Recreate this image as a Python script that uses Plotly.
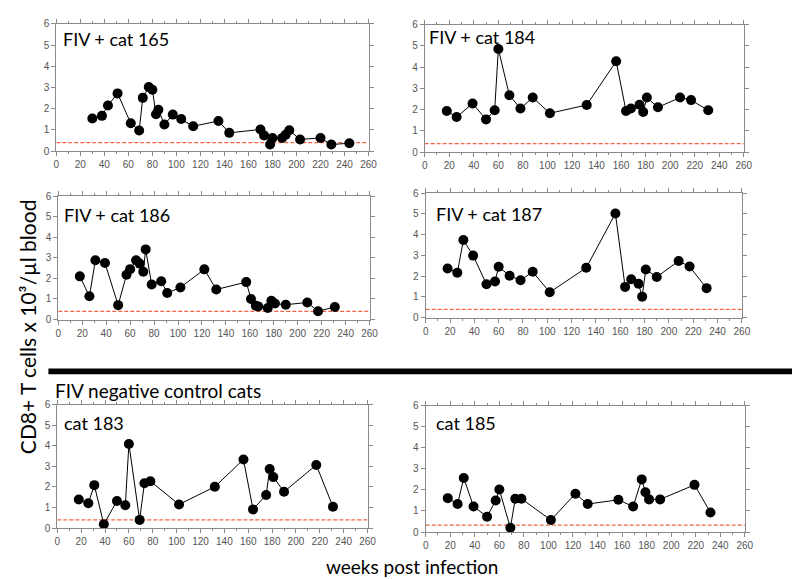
import plotly.graph_objects as go

# ---------------- data ----------------
w165 = [30, 38, 43, 51, 62, 69, 72, 77, 80, 83, 85, 90, 97, 104, 114, 135, 144, 170, 173, 178, 180, 188, 191, 194, 203, 220, 229, 244]
v165 = [1.54, 1.66, 2.15, 2.72, 1.31, 0.97, 2.51, 3.02, 2.89, 1.74, 1.95, 1.25, 1.72, 1.51, 1.17, 1.42, 0.86, 1.02, 0.74, 0.31, 0.62, 0.62, 0.77, 0.98, 0.55, 0.62, 0.31, 0.37]

w184 = [18, 26, 39, 50, 57, 60, 69, 78, 88, 102, 132, 156, 164, 168, 175, 178, 181, 190, 208, 217, 231]
v184 = [1.94, 1.65, 2.29, 1.54, 1.97, 4.86, 2.68, 2.05, 2.57, 1.83, 2.22, 4.28, 1.94, 2.05, 2.23, 1.89, 2.57, 2.11, 2.57, 2.45, 1.97]

w186 = [18, 26, 31, 39, 50, 57, 60, 65, 68, 71, 73, 78, 86, 91, 102, 122, 132, 157, 161, 165, 167, 175, 178, 181, 190, 208, 217, 231]
v186 = [2.10, 1.13, 2.88, 2.75, 0.70, 2.18, 2.45, 2.88, 2.72, 2.32, 3.41, 1.70, 1.86, 1.29, 1.56, 2.44, 1.46, 1.82, 1.00, 0.67, 0.64, 0.56, 0.91, 0.78, 0.72, 0.83, 0.40, 0.61]

w187 = [18, 26, 31, 39, 50, 57, 60, 69, 78, 88, 102, 132, 156, 164, 169, 175, 178, 181, 190, 208, 217, 231]
v187 = [2.37, 2.16, 3.74, 2.99, 1.61, 1.74, 2.45, 2.02, 1.80, 2.21, 1.22, 2.40, 5.02, 1.48, 1.85, 1.63, 1.01, 2.32, 1.96, 2.73, 2.46, 1.42]

w183 = [18, 26, 31, 39, 50, 57, 60, 69, 73, 78, 102, 132, 156, 164, 175, 178, 181, 190, 217, 231]
v183 = [1.39, 1.21, 2.09, 0.19, 1.32, 1.11, 4.09, 0.40, 2.18, 2.28, 1.15, 2.01, 3.34, 0.91, 1.61, 2.87, 2.48, 1.77, 3.07, 1.04]

w185 = [18, 26, 31, 39, 50, 57, 60, 69, 73, 78, 102, 122, 132, 157, 169, 176, 179, 182, 191, 219, 232]
v185 = [1.61, 1.33, 2.57, 1.21, 0.73, 1.50, 2.02, 0.20, 1.58, 1.58, 0.57, 1.82, 1.33, 1.53, 1.21, 2.50, 1.89, 1.55, 1.55, 2.24, 0.93]

panel_titles = ["FIV + cat 165", "FIV + cat 184", "FIV + cat 186", "FIV + cat 187", "cat 183", "cat 185"]
thresholds = [0.40, 0.40, 0.40, 0.40, 0.40, 0.33]
x_ticks = list(range(0, 261, 20))
y_ticks = list(range(0, 7))

series = [(w165, v165), (w184, v184), (w186, v186), (w187, v187), (w183, v183), (w185, v185)]

# ---------------- layout (pixel boxes) ----------------
W, H = 800, 579
boxes = [  # (left, right, top, bottom) in pixels
    (46, 363, 10, 140),
    (420, 744, 11, 141),
    (48, 364, 186, 312),
    (421, 742, 183, 310),
    (47, 362, 399, 525),
    (421, 745, 400, 529),
]
title_pos = [  # (title centre x offset px from axis left, centre y px from axis top)
    (61, 16),
    (58, 12),
    (59.5, 19),
    (64, 21),
    (37, 19),
    (41, 18),
]

fig = go.Figure()
tick_font = dict(family="Liberation Sans Narrow, Liberation Sans, Arial", size=10, color="#555555")
axis_col = "#8a8a8a"
label_font = "Lato, Open Sans, sans-serif"

for i, ((xs, ys), (l, r, t, b)) in enumerate(zip(series, boxes)):
    n = i + 1
    xa = "x" if n == 1 else f"x{n}"
    ya = "y" if n == 1 else f"y{n}"
    fig.add_trace(go.Scatter(
        x=[0, 260], y=[thresholds[i], thresholds[i]], mode="lines", xaxis=xa, yaxis=ya,
        line=dict(color="#f26446", width=1.2, dash="4px,2px"),
        showlegend=False, hoverinfo="skip",
    ))
    fig.add_trace(go.Scatter(
        x=xs, y=ys, mode="lines+markers", xaxis=xa, yaxis=ya,
        line=dict(color="black", width=1),
        marker=dict(color="black", size=10),
        showlegend=False, hoverinfo="x+y",
    ))
    xkey = "xaxis" if n == 1 else f"xaxis{n}"
    ykey = "yaxis" if n == 1 else f"yaxis{n}"
    fig.layout[xkey] = dict(
        domain=[l / W, r / W], anchor=ya, range=[0, 260],
        tickvals=x_ticks, ticks="outside", ticklen=4, tickcolor=axis_col,
        minor=dict(dtick=10, ticks="outside", ticklen=2, tickcolor=axis_col),
        showline=True, linecolor=axis_col, linewidth=1, mirror="ticks",
        showgrid=False, zeroline=False, tickfont=tick_font,
    )
    fig.layout[ykey] = dict(
        domain=[1 - b / H, 1 - t / H], anchor=xa, range=[0, 6],
        tickvals=y_ticks, ticks="outside", ticklen=4, tickcolor=axis_col,
        showline=True, linecolor=axis_col, linewidth=1, mirror="ticks",
        showgrid=False, zeroline=False, tickfont=tick_font,
    )
    dx, dy = title_pos[i]
    fig.add_annotation(
        text=panel_titles[i], xref="paper", yref="paper",
        x=(l + dx) / W, y=1 - (t + dy) / H, xanchor="center", yanchor="middle", showarrow=False,
        font=dict(family=label_font, size=18, color="black"),
    )

# thick black separator bar
fig.add_shape(type="rect", xref="paper", yref="paper",
              x0=38 / W, x1=799 / W, y0=1 - 368 / H, y1=1 - 362 / H,
              fillcolor="black", line=dict(width=0))

fig.add_annotation(text="FIV negative control cats", xref="paper", yref="paper",
                   x=149.5 / W, y=1 - 384 / H, xanchor="center", yanchor="middle", showarrow=False,
                   font=dict(family=label_font, size=19, color="black"))
fig.add_annotation(text="weeks post infection", xref="paper", yref="paper",
                   x=407 / W, y=1 - 564 / H, xanchor="center", yanchor="middle", showarrow=False,
                   font=dict(family=label_font, size=19, color="black"))
fig.add_annotation(text="CD8+ T cells x 10³/µl blood", xref="paper", yref="paper",
                   x=17 / W, y=1 - 319 / H, xanchor="center", yanchor="middle", showarrow=False,
                   textangle=-90,
                   font=dict(family=label_font, size=21, color="black"))

fig.update_layout(
    width=W, height=H, margin=dict(l=0, r=0, t=0, b=0),
    paper_bgcolor="white", plot_bgcolor="white",
)

fig.write_html("out.html")
